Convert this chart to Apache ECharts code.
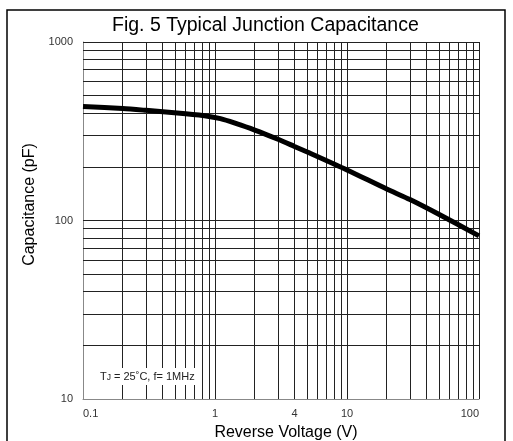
<!DOCTYPE html>
<html>
<head>
<meta charset="utf-8">
<script src="https://cdn.jsdelivr.net/npm/echarts@6/dist/echarts.min.js"></script>
<style>html,body{margin:0;padding:0;background:#fff}#c{width:513px;height:441px}</style>
</head>
<body>
<div id="c"></div>
<script>
// Curve data
const voltage = [0.1, 0.2, 0.3, 0.6, 0.9, 1.1, 1.4, 2, 3, 4, 5, 10, 20, 30, 50, 100];
const capacitance = [435, 424, 414, 396, 383, 372, 352, 321, 285, 260, 242, 192, 150, 131, 108, 82];

// Grid line values
const xGridValues = [0.2,0.3,0.4,0.5,0.6,0.7,0.8,0.9,1,2,3,4,5,6,7,8,9,10,20,30,40,50,60,70,80,90,100];
const yGridValues = [20,30,40,50,60,70,80,90,100,200,300,400,500,600,700,800,900,1000];
const xExtraLabels = [4];

const chart = echarts.init(document.getElementById('c'));
const gridStyle = {color: '#222', width: 1, type: 'solid'};
const markData = [];
xGridValues.forEach(v => markData.push({xAxis: v, lineStyle: gridStyle,
  label: xExtraLabels.indexOf(v) >= 0 ? {show: true, position: 'start', formatter: String(v), color: '#333', fontSize: 11, fontFamily: 'Liberation Sans, Arial', distance: 9} : {show: false}}));
yGridValues.forEach(v => markData.push({yAxis: v, lineStyle: gridStyle, label: {show: false}}));

chart.setOption({
  animation: false,
  backgroundColor: '#fff',
  title: {
    text: 'Fig. 5 Typical Junction Capacitance',
    left: 107, top: 11,
    textStyle: {fontFamily: 'Liberation Sans, Arial', fontSize: 19.5, fontWeight: 'normal', color: '#000'}
  },
  grid: {left: 83, right: 34, top: 42, bottom: 42, outerBoundsMode: 'none', containLabel: false},
  xAxis: {
    type: 'log', logBase: 10, min: 0.1, max: 100,
    name: 'Reverse Voltage (V)', nameLocation: 'middle', nameGap: 26,
    nameTextStyle: {fontFamily: 'Liberation Sans, Arial', fontSize: 16, color: '#000', padding: [0,0,0,10]},
    axisLine: {show: true, lineStyle: {color: '#888', width: 1}},
    axisTick: {show: false},
    splitLine: {show: false},
    minorTick: {show: false},
    axisLabel: {color: '#333', fontSize: 11, fontFamily: 'Liberation Sans, Arial', margin: 9,
      alignMinLabel: 'left', alignMaxLabel: 'right',
      formatter: v => String(v)}
  },
  yAxis: {
    type: 'log', logBase: 10, min: 10, max: 1000,
    name: 'Capacitance (pF)', nameLocation: 'middle', nameGap: 37,
    nameTextStyle: {fontFamily: 'Liberation Sans, Arial', fontSize: 16, color: '#000', padding: [0,0,0,32]},
    axisLine: {show: true, lineStyle: {color: '#888', width: 1}},
    axisTick: {show: false},
    splitLine: {show: false},
    axisLabel: {color: '#333', fontSize: 11, fontFamily: 'Liberation Sans, Arial', margin: 10,
      formatter: v => String(v)}
  },
  graphic: [
    {type: 'rect', z: 0, silent: true, shape: {x: 7, y: 10, width: 498, height: 445},
      style: {fill: 'none', stroke: '#000', lineWidth: 1.5}},
    {type: 'text', z: 100, left: 86, top: 368, silent: true,
      style: {
        text: '{a|T}{s|J}{a| = 25˚C, f= 1MHz}',
        rich: {
          a: {fontFamily: 'Liberation Sans, Arial', fontSize: 11, fill: '#222'},
          s: {fontFamily: 'Liberation Sans, Arial', fontSize: 8.5, fill: '#222', verticalAlign: 'bottom'}
        },
        backgroundColor: '#fff', padding: [3, 4, 3, 14]
      }}
  ],
  series: [
    {
      type: 'line', data: [], z: 1, silent: true,
      markLine: {silent: true, symbol: ['none', 'none'], animation: false, data: markData}
    },
    {
      type: 'line', z: 5, smooth: 0.25, symbol: 'none',
      lineStyle: {color: '#000', width: 5},
      data: voltage.map((v, i) => [v, capacitance[i]])
    }
  ]
});
</script>
</body>
</html>
